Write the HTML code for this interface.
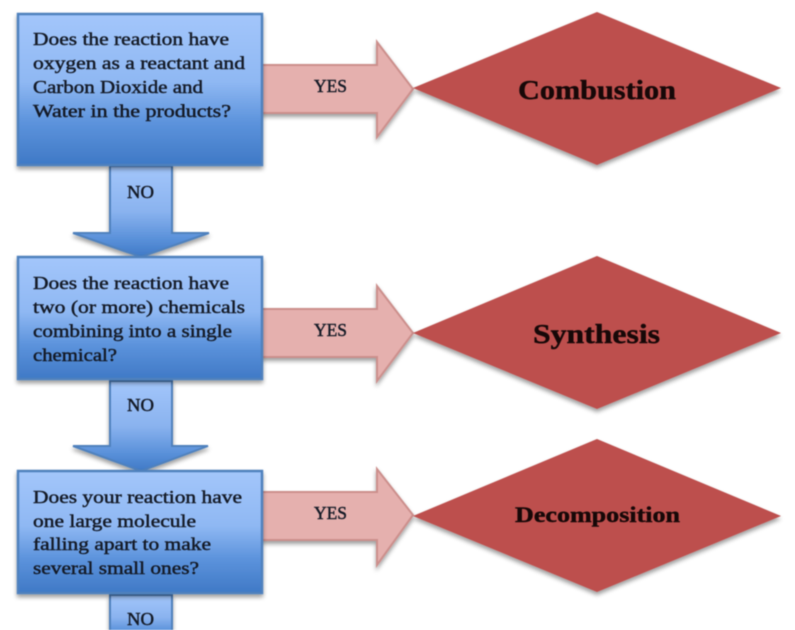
<!DOCTYPE html>
<html><head><meta charset="utf-8"><style>
html,body{margin:0;padding:0;background:#fff;width:795px;height:630px;overflow:hidden}
svg{display:block;filter:blur(.6px)}
text{font-family:"Liberation Serif","DejaVu Serif",serif;fill:#141a26;stroke:#141a26;stroke-width:.45px}
.q{font-size:18px}
.l{font-size:17.5px}
.d{font-weight:bold;fill:#170808;stroke:#170808}
</style></head><body>
<svg width="795" height="630" viewBox="0 0 795 630" xmlns="http://www.w3.org/2000/svg">
<defs>
<linearGradient id="b" x1="0" y1="0" x2="0" y2="1">
<stop offset="0" stop-color="#a3c6fb"/><stop offset=".45" stop-color="#8fb8f3"/><stop offset=".72" stop-color="#5c93dc"/><stop offset="1" stop-color="#3f79c6"/>
</linearGradient>
<linearGradient id="a" x1="0" y1="0" x2="0" y2="1">
<stop offset="0" stop-color="#a3c6fb"/><stop offset=".5" stop-color="#8ab3ef"/><stop offset=".8" stop-color="#5a91da"/><stop offset="1" stop-color="#3f79c6"/>
</linearGradient>
<filter id="s" x="-10%" y="-10%" width="120%" height="125%"><feDropShadow dx="0" dy="3" stdDeviation="2" flood-color="#000" flood-opacity=".38"/></filter>
</defs>

<g filter="url(#s)">
<path d="M110 166H172V233H209L141 257L73 233H110Z" fill="url(#a)" stroke="#4f81bd" stroke-width="2"/>
<path d="M110 381H172V446H208L141 471L73 446H110Z" fill="url(#a)" stroke="#4f81bd" stroke-width="2"/>
<path d="M110 595H172V640H110Z" fill="url(#a)" stroke="#4f81bd" stroke-width="2"/>
</g>

<g fill="#e5b0ae" stroke="#cc8f8c" stroke-width="2" filter="url(#s)">
<path d="M262 65H377V42L413 89L377 137V113H262Z"/>
<path d="M262 309H377V286L413 333L377 381V357H262Z"/>
<path d="M262 492H377V469L413 515L377 565V540H262Z"/>
</g>

<g fill="#bd4f4d" filter="url(#s)">
<path d="M413 88L597 12L781 88L597 165Z"/>
<path d="M413 333L597 256L781 333L597 409Z"/>
<path d="M413 516L597 439L781 516L597 592Z"/>
</g>

<g fill="url(#b)" stroke="#4f81bd" stroke-width="2.5" filter="url(#s)">
<rect x="18" y="14" width="244" height="151"/>
<rect x="18" y="257" width="244" height="122"/>
<rect x="18" y="471" width="244" height="122"/>
</g>

<g class="q">
<text class="q" x="33" y="45" textLength="196" lengthAdjust="spacingAndGlyphs">Does the reaction have</text>
<text class="q" x="33" y="69" textLength="212" lengthAdjust="spacingAndGlyphs">oxygen as a reactant and</text>
<text class="q" x="33" y="93" textLength="170" lengthAdjust="spacingAndGlyphs">Carbon Dioxide and</text>
<text class="q" x="33" y="117" textLength="198" lengthAdjust="spacingAndGlyphs">Water in the products?</text>
<text class="q" x="33" y="289" textLength="196" lengthAdjust="spacingAndGlyphs">Does the reaction have</text>
<text class="q" x="33" y="313" textLength="212" lengthAdjust="spacingAndGlyphs">two (or more) chemicals</text>
<text class="q" x="33" y="337" textLength="199" lengthAdjust="spacingAndGlyphs">combining into a single</text>
<text class="q" x="33" y="361" textLength="84" lengthAdjust="spacingAndGlyphs">chemical?</text>
<text class="q" x="33" y="503" textLength="209" lengthAdjust="spacingAndGlyphs">Does your reaction have</text>
<text class="q" x="33" y="527" textLength="163" lengthAdjust="spacingAndGlyphs">one large molecule</text>
<text class="q" x="33" y="550" textLength="178" lengthAdjust="spacingAndGlyphs">falling apart to make</text>
<text class="q" x="33" y="574" textLength="166" lengthAdjust="spacingAndGlyphs">several small ones?</text>
</g>

<text class="l" x="314" y="92" textLength="33" lengthAdjust="spacingAndGlyphs">YES</text>
<text class="l" x="314" y="336" textLength="33" lengthAdjust="spacingAndGlyphs">YES</text>
<text class="l" x="314" y="519" textLength="33" lengthAdjust="spacingAndGlyphs">YES</text>
<text class="l" x="127" y="198" textLength="27" lengthAdjust="spacingAndGlyphs">NO</text>
<text class="l" x="127" y="411" textLength="27" lengthAdjust="spacingAndGlyphs">NO</text>
<text class="l" x="127" y="625" textLength="27" lengthAdjust="spacingAndGlyphs">NO</text>

<text class="d" x="518" y="99" font-size="27" textLength="158" lengthAdjust="spacingAndGlyphs">Combustion</text>
<text class="d" x="533" y="343" font-size="27" textLength="127" lengthAdjust="spacingAndGlyphs">Synthesis</text>
<text class="d" x="515" y="522" font-size="22" textLength="165" lengthAdjust="spacingAndGlyphs">Decomposition</text>
</svg>
</body></html>
